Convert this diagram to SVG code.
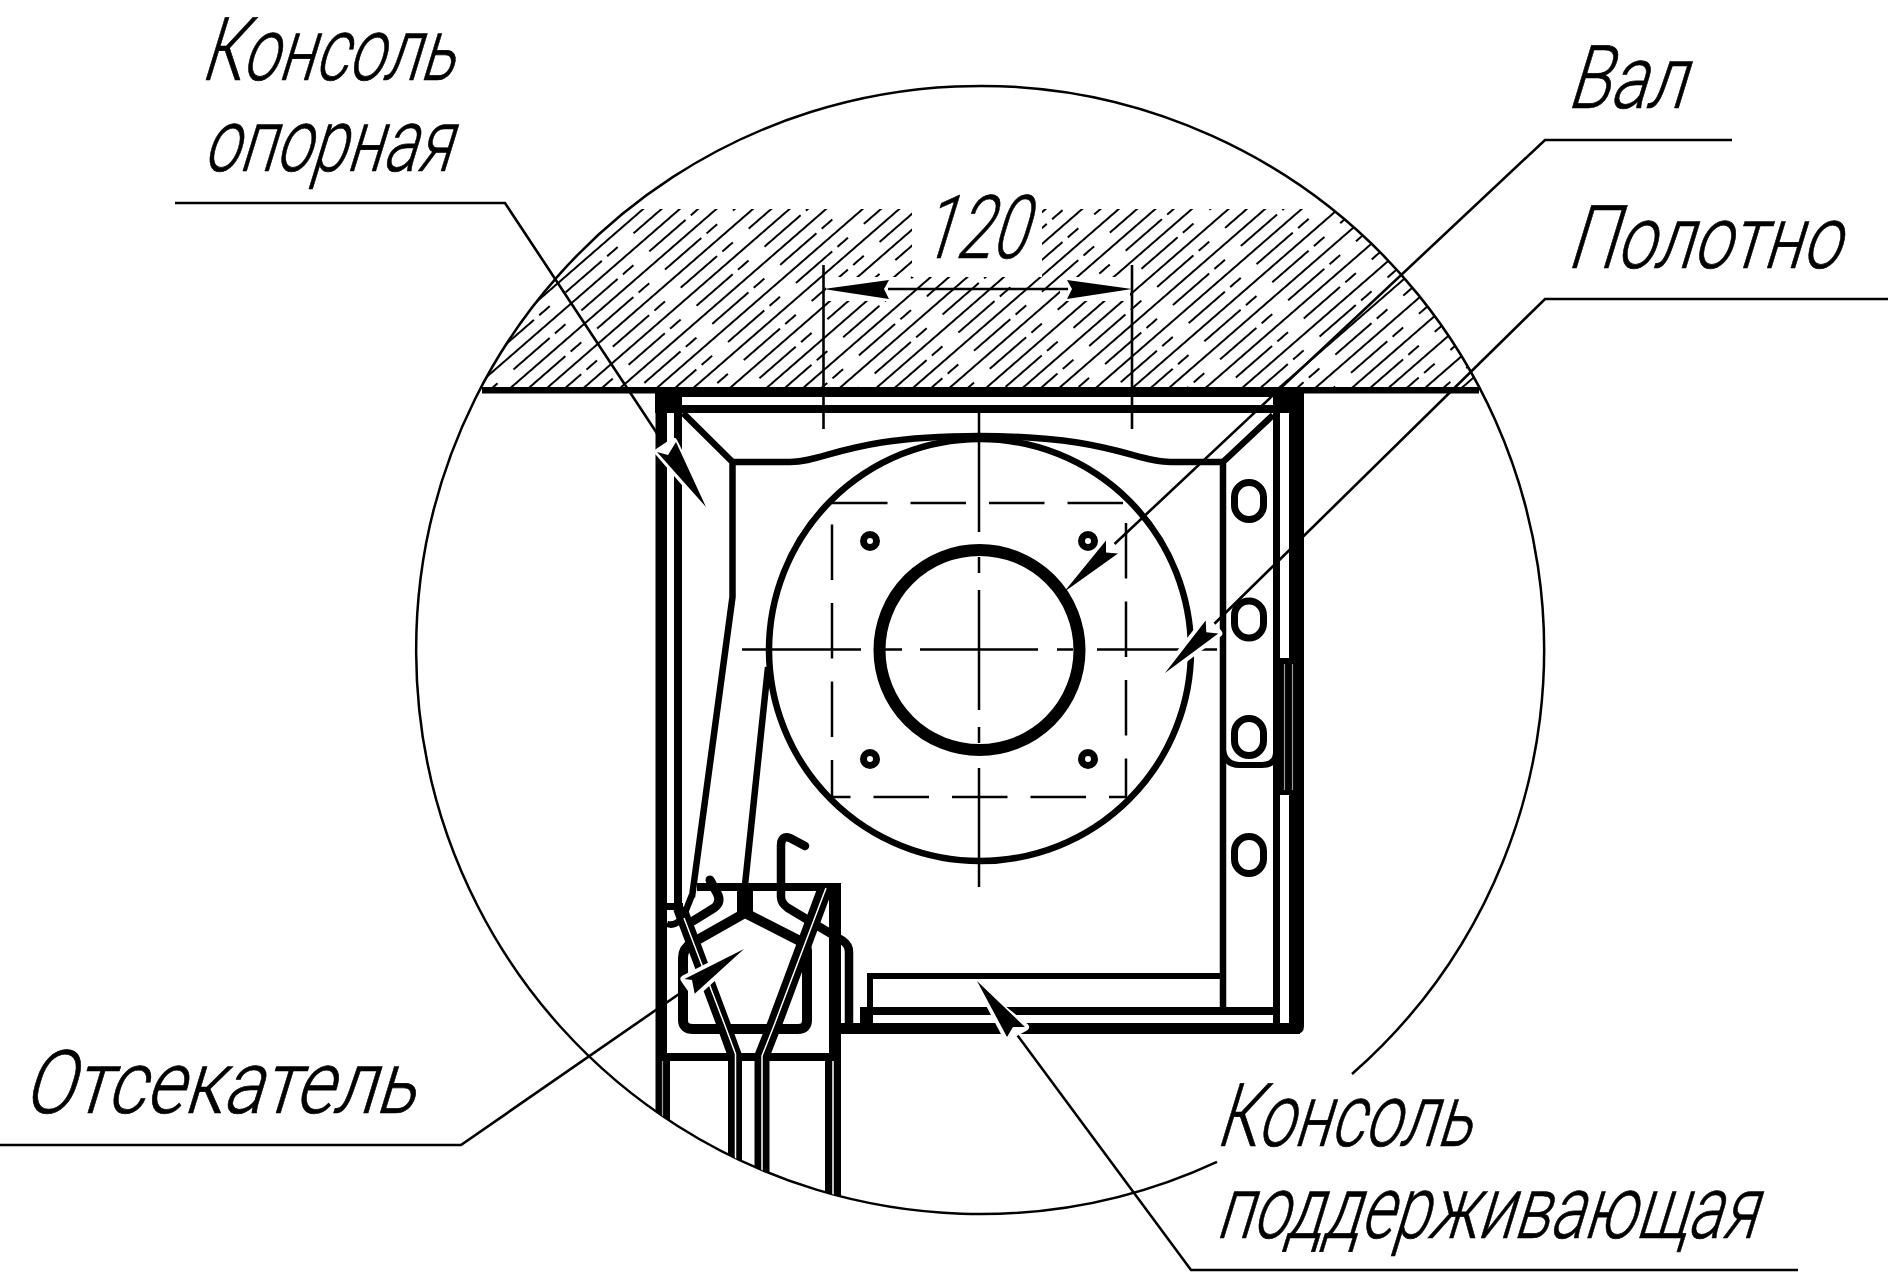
<svg xmlns="http://www.w3.org/2000/svg" width="1890" height="1278" viewBox="0 0 1890 1278">
<style>
.t{font-family:"Roboto","Liberation Sans",sans-serif;font-weight:300;font-size:88px;fill:#000;stroke:#000;stroke-width:.7}
.s{fill:none;stroke:#000;stroke-linejoin:round}
.ln{fill:none;stroke:#000;stroke-width:2.6}
.c{fill:none;stroke:#000;stroke-width:2.5}
.b{fill:#000;stroke:none}
.w{fill:#fff;stroke:#fff;stroke-width:8;stroke-linejoin:round}
.slit{fill:none;stroke:#fff;stroke-width:1.5}
.slitg{fill:none;stroke:#999;stroke-width:1.2}
</style>
<defs>
<pattern id="hatch" width="90" height="24" patternUnits="userSpaceOnUse" patternTransform="translate(716.2,328.4) rotate(-41)">
<path d="M0 6H90M0 18H48M55 18H69" fill="none" stroke="#000" stroke-width="1.9"/>
</pattern>
<clipPath id="big"><circle cx="980" cy="650" r="564"/></clipPath>
</defs>
<rect width="1890" height="1278" fill="#fff"/>
<g id="hatching">
<path d="M628.4 209H1331.6A564 564 0 0 1 1479.5 388H480.5A564 564 0 0 1 628.4 209Z" fill="url(#hatch)"/>
<rect x="912" y="200" width="130" height="77" fill="#fff"/>
<rect x="826" y="277" width="70" height="24" fill="#fff"/>
<rect x="1060" y="277" width="70" height="24" fill="#fff"/>
</g>
<path id="detail-circle" class="c" d="M1352 1074A564 564 0 1 0 1217 1161.8"/>
<g id="console" clip-path="url(#big)">
<rect class="b" x="482" y="387" width="997" height="6.5"/>
<rect class="b" x="655" y="387" width="649" height="10"/>
<rect class="b" x="655" y="387" width="27" height="26"/>
<rect class="b" x="682" y="405" width="591" height="8"/>
<rect class="b" x="1273" y="387" width="31" height="26"/>
<rect class="b" x="655.500" y="397" width="11.500" height="740"/>
<rect class="b" x="674" y="397" width="8" height="510"/>
<rect class="b" x="1273" y="413" width="7" height="621"/>
<path class="b" d="M1289 387H1304V1026Q1304 1034 1296 1034H1200V1023H1289Z"/>
<rect class="b" x="1273" y="658" width="31" height="137"/>
<path class="slitg" d="M1284.500 664V790M1292.500 664V790"/>
<path class="b" d="M840 1023H1300V1034H840Z"/>
<rect class="b" x="860" y="1007" width="413" height="8"/>
<rect class="b" x="860" y="1007" width="13" height="18"/>
<rect class="b" x="867" y="973" width="356" height="6"/>
<rect class="b" x="867" y="973" width="6" height="36"/>
<path class="s" stroke-width="6.500" d="M683 413L732.500 462M732.500 462V597L692 897M1273 415L1223 462M1223 462V1014"/>
<path class="s" stroke-width="6.500" d="M732 462H790C825 462 850 436 979 436C1108 436 1135 462 1170 462H1225"/>
<path class="s" stroke-width="6" stroke-linecap="round" d="M1223 750Q1225 765 1240 765H1262Q1276 765 1276 752"/>
</g>
<g id="slots">
<rect class="s" stroke-width="7" x="1234.500" y="482.500" width="29" height="37" rx="14.500"/>
<rect class="s" stroke-width="7" x="1234.500" y="601" width="29" height="37" rx="14.500"/>
<rect class="s" stroke-width="7" x="1234.500" y="718.500" width="29" height="37" rx="14.500"/>
<rect class="s" stroke-width="7" x="1234.500" y="836.500" width="29" height="37" rx="14.500"/>
</g>
<g id="shaft">
<circle class="s" stroke-width="6.500" cx="980" cy="650" r="211"/>
<circle class="s" stroke-width="12" cx="979.500" cy="650" r="100"/>
<path class="s" stroke-width="2.500" stroke-dasharray="55.500 23" d="M832 503H1126V797H832Z"/>
<path class="s" stroke-width="2.500" d="M979 412V532M979 557V573M979 590V710M979 727V743M979 768V887M742 649.500H861M885 649.500H902M920 649.500H1038M1057 649.500H1073M1097 649.500H1217"/>
<g class="s" stroke-width="7">
<circle cx="870" cy="541" r="6.500"/>
<circle cx="1088" cy="541" r="6.500"/>
<circle cx="870" cy="759" r="6.500"/>
<circle cx="1088" cy="759" r="6.500"/>
</g>
</g>
<g id="cutter" clip-path="url(#big)">
<rect class="b" x="697" y="883" width="144" height="8"/>
<rect class="b" x="829" y="883" width="12" height="320"/>
<rect class="b" x="656" y="1053" width="185" height="8"/>
<rect class="b" x="656" y="1053" width="14" height="80"/>
<rect class="b" x="737" y="883" width="16" height="30"/>
<path class="s" stroke-width="6.500" d="M768 667L745 885"/>
<rect class="b" x="825" y="1061" width="16" height="150"/>
<path class="slit" d="M833 1061V1210"/>
<path class="slitg" d="M662.500 1061V1130"/>
<path class="s" stroke-width="10" d="M745 913L692 943Q683 948 683 958V1020Q683 1029 693 1029H798Q807 1029 807 1020V950Q807 945 800 941Z"/>
<path class="s" stroke-width="8.500" stroke-linecap="round" d="M805 846L790 838Q781 835 781 846V897Q781 903 788 908L843 941Q849 945 849 952V1028"/>
<path class="s" stroke-width="9" stroke-linecap="round" d="M710 880L717 893Q722 902 714 908L693 921"/>
<path class="s" stroke-width="6.500" d="M667 924Q680 928 688 905L692 895"/>
<rect class="b" x="667" y="903" width="16" height="7"/>
<path class="s" stroke-width="14" stroke-linejoin="miter" d="M680 908L723 1023L735 1056V1210"/>
<path class="slit" d="M684 918L724 1023L735.500 1054V1210"/>
<path class="s" stroke-width="15" stroke-linejoin="miter" d="M826 886L775 1023L762 1056V1210"/>
<path class="slit" d="M826 888L775 1023L762 1056V1210"/>
</g>
<g id="dimension">
<path class="ln" d="M823.500 265V429M1132 265V429M888 289H1068"/>
<path class="b" d="M823.500 289L889 280L884 289L889 299Z"/>
<path class="b" d="M1132 289L1067 280L1072 289L1067 299Z"/>
<text class="t" transform="translate(919,258) skewX(-17)" font-size="86" textLength="106" lengthAdjust="spacingAndGlyphs">120</text>
</g>
<g id="connectors">
<path class="ln" d="M175 203H505L672 456"/>
<path class="w" d="M706 507L673.600 442L658.600 452Z"/>
<path class="b" d="M706 507L676 442L668 455L657 452Z"/>
<path class="ln" d="M1732 140H1545L1106 552"/>
<path class="w" d="M1080 579L1118 553.600L1106 540.400Z"/>
<path class="b" d="M1064 592L1118 553.600L1106 552.600L1106 540.400Z"/>
<path class="ln" d="M1888 299H1545L1206 632"/>
<path class="w" d="M1165 673L1218.300 633.400L1205.700 620.600Z"/>
<path class="b" d="M1165 673L1218.300 633.400L1206.300 632.200L1205.700 620.600Z"/>
<path class="ln" d="M1798 1270H1191L1012 1028"/>
<path class="w" d="M985 995L1007 1037L1025 1027Z"/>
<path class="b" d="M977 981L1007 1037L1013 1027L1025 1027Z"/>
<path class="ln" d="M0 1145H461L692 985"/>
<path class="w" d="M744 949L694.700 993.800L684.500 979Z"/>
<path class="b" d="M744 949L694.700 993.800L692 980L684.500 979Z"/>
</g>
<g id="labels">
<text class="t" transform="translate(200,80) skewX(-17)" textLength="253" lengthAdjust="spacingAndGlyphs">Консоль</text>
<text class="t" transform="translate(202,171) skewX(-17)" textLength="248" lengthAdjust="spacingAndGlyphs">опорная</text>
<text class="t" transform="translate(1566,108) skewX(-17)" textLength="118" lengthAdjust="spacingAndGlyphs">Вал</text>
<text class="t" transform="translate(1566,268) skewX(-17)" textLength="273" lengthAdjust="spacingAndGlyphs">Полотно</text>
<text class="t" transform="translate(22,1113) skewX(-17)" textLength="392" lengthAdjust="spacingAndGlyphs">Отсекатель</text>
<text class="t" transform="translate(1215,1146) skewX(-17)" textLength="255" lengthAdjust="spacingAndGlyphs">Консоль</text>
<text class="t" transform="translate(1215,1238) skewX(-17)" textLength="540" lengthAdjust="spacingAndGlyphs">поддерживающая</text>
</g>
</svg>
